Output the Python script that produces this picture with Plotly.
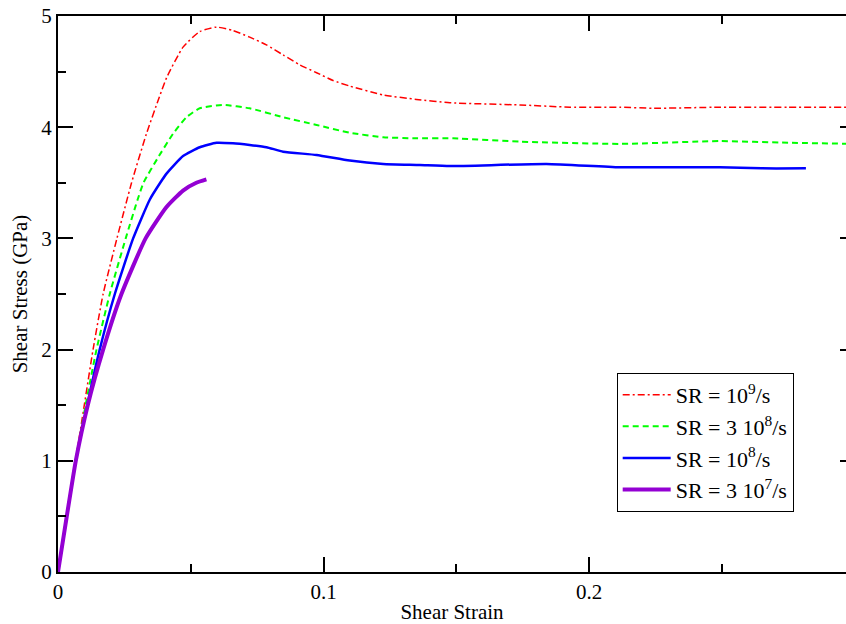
import plotly.graph_objects as go

# Shear strain / shear stress (GPa) curves for four strain rates
strain_1e9 = [0, 0.0033, 0.0066, 0.0099, 0.0132, 0.0170, 0.0222, 0.0277, 0.0333, 0.0377, 0.0410,
              0.0471, 0.0534, 0.0597, 0.0659, 0.0722, 0.0785, 0.0848, 0.0911, 0.0974, 0.1036,
              0.1099, 0.1225, 0.1350, 0.1476, 0.1740, 0.1928, 0.2116, 0.2242, 0.2493, 0.2750, 0.3000]
stress_1e9 = [0, 0.50, 1.00, 1.50, 2.00, 2.50, 3.00, 3.50, 3.94, 4.24, 4.45,
              4.72, 4.86, 4.90, 4.87, 4.81, 4.74, 4.65, 4.56, 4.49, 4.42,
              4.37, 4.29, 4.25, 4.22, 4.20, 4.18, 4.18, 4.17, 4.18, 4.18, 4.18]

strain_3e8 = [0, 0.0033, 0.0067, 0.0104, 0.0145, 0.0195, 0.0255, 0.0300, 0.0322, 0.0375, 0.0433,
              0.0484, 0.0534, 0.0622, 0.0722, 0.0848, 0.0974, 0.1099, 0.1225, 0.1350, 0.1488,
              0.1740, 0.2116, 0.2493, 0.2750, 0.3000]
stress_3e8 = [0, 0.50, 1.00, 1.50, 2.00, 2.50, 3.00, 3.35, 3.50, 3.72, 3.94,
              4.09, 4.17, 4.20, 4.17, 4.09, 4.02, 3.95, 3.91, 3.90, 3.90,
              3.87, 3.85, 3.875, 3.86, 3.85]

strain_1e8 = [0, 0.0033, 0.0067, 0.0110, 0.0157, 0.0214, 0.0283, 0.0346, 0.0385, 0.0408, 0.0471,
              0.0534, 0.0597, 0.0659, 0.0722, 0.0785, 0.0848, 0.0974, 0.1099, 0.1225, 0.1363,
              0.1476, 0.1840, 0.2116, 0.2493, 0.2650, 0.2817]
stress_1e8 = [0, 0.50, 1.00, 1.50, 2.00, 2.50, 3.00, 3.35, 3.50, 3.58, 3.74,
              3.82, 3.86, 3.855, 3.84, 3.82, 3.78, 3.75, 3.70, 3.67, 3.66,
              3.65, 3.67, 3.64, 3.64, 3.63, 3.63]

strain_3e7 = [0, 0.0033, 0.0067, 0.0112, 0.0170, 0.0239, 0.0330, 0.0408, 0.0471, 0.0521, 0.0559]
stress_3e7 = [0, 0.50, 1.00, 1.50, 2.00, 2.50, 3.00, 3.28, 3.43, 3.50, 3.53]

labels = ["SR = 10<sup>9</sup>/s", "SR = 3 10<sup>8</sup>/s",
          "SR = 10<sup>8</sup>/s", "SR = 3 10<sup>7</sup>/s"]

FONT = "Liberation Serif"

fig = go.Figure()
fig.add_trace(go.Scatter(x=strain_1e9, y=stress_1e9, mode="lines", name=labels[0],
                         line=dict(color="#ff0000", width=1.5, dash="7px,3px,2px,3px",
                                   shape="spline", smoothing=0.5)))
fig.add_trace(go.Scatter(x=strain_3e8, y=stress_3e8, mode="lines", name=labels[1],
                         line=dict(color="#00ff00", width=2, dash="6px,4px",
                                   shape="spline", smoothing=0.5)))
fig.add_trace(go.Scatter(x=strain_1e8, y=stress_1e8, mode="lines", name=labels[2],
                         line=dict(color="#0000ff", width=2.5, shape="spline", smoothing=0.5)))
fig.add_trace(go.Scatter(x=strain_3e7, y=stress_3e7, mode="lines", name=labels[3],
                         line=dict(color="#9400d3", width=4, shape="spline", smoothing=0.5)))
# empty trace that carries the right-hand tick axis
fig.add_trace(go.Scatter(x=[None], y=[None], yaxis="y2", showlegend=False, hoverinfo="skip"))

tick_font = dict(family=FONT, size=21, color="black")

fig.update_layout(
    width=846, height=624,
    margin=dict(l=58, r=0, t=16, b=52),
    paper_bgcolor="white", plot_bgcolor="white",
    font=dict(family=FONT, size=21, color="black"),
    xaxis=dict(range=[0, 0.2968], tick0=0, dtick=0.1, showgrid=False, zeroline=False,
               showline=True, linewidth=2, linecolor="black", mirror="ticks",
               ticks="inside", ticklen=15, tickwidth=1.5, tickcolor="black",
               minor=dict(dtick=0.05, ticks="inside", ticklen=8, tickwidth=1.5, tickcolor="black"),
               tickfont=tick_font,
               title=dict(text="Shear Strain", font=tick_font, standoff=6)),
    yaxis=dict(range=[0, 5], tick0=0, dtick=1, showgrid=False, zeroline=False,
               showline=True, linewidth=2, linecolor="black", mirror=False,
               ticks="inside", ticklen=15, tickwidth=1.5, tickcolor="black",
               minor=dict(dtick=0.5, ticks="inside", ticklen=8, tickwidth=1.5, tickcolor="black"),
               tickfont=tick_font,
               title=dict(text="Shear Stress (GPa)", font=tick_font, standoff=8)),
    yaxis2=dict(range=[0, 5], tick0=0, dtick=1, overlaying="y", side="right", anchor="x",
                showgrid=False, zeroline=False, showline=False, showticklabels=False,
                ticks="inside", ticklen=6, tickwidth=1.5, tickcolor="black"),
    legend=dict(x=0.709, y=0.358, xanchor="left", yanchor="top",
                bgcolor="white", bordercolor="black", borderwidth=1, itemwidth=48,
                font=dict(family=FONT, size=22, color="black"), tracegroupgap=0),
    showlegend=True,
)

fig.write_html("out.html")
